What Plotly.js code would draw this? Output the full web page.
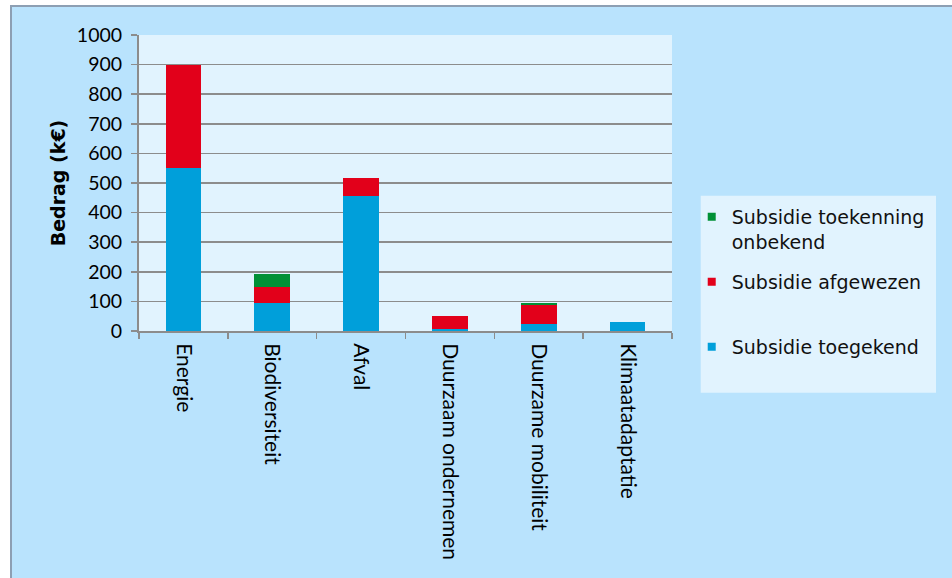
<!DOCTYPE html>
<html>
<head>
<meta charset="utf-8">
<script src="https://cdn.plot.ly/plotly-3.0.1.min.js"></script>
<style>
  html, body { margin: 0; padding: 0; background: #ffffff; width: 952px; height: 578px; overflow: hidden; }
  #frame { position: absolute; left: 10px; top: 5px; width: 942px; height: 573px;
           border-left: 2px solid #8d9fb3; border-top: 2px solid #8d9fb3; background: #b9e3fd; }
  #chart { position: absolute; left: 0; top: 0; width: 940px; height: 571px; }
</style>
</head>
<body>
<div id="frame"><div id="chart"></div></div>
<script>
const categories = ["Energie", "Biodiversiteit", "Afval", "Duurzaam ondernemen", "Duurzame mobiliteit", "Klimaatadaptatie"];
const toegekend = [550, 95, 455, 8, 22, 29];
const afgewezen = [350, 55, 61, 42, 66, 0];
const onbekend  = [0, 42, 0, 0, 7, 0];
const seriesNames = ["Subsidie toegekend", "Subsidie afgewezen", "Subsidie toekenning<br>onbekend"];
const yTicks = [0, 100, 200, 300, 400, 500, 600, 700, 800, 900, 1000];

const cBlue = "#009fda", cRed = "#e2001a", cGreen = "#009036";

const traces = [
  { type: "bar", x: categories, y: toegekend, name: seriesNames[0], marker: { color: cBlue }, showlegend: false },
  { type: "bar", x: categories, y: afgewezen, name: seriesNames[1], marker: { color: cRed }, showlegend: false },
  { type: "bar", x: categories, y: onbekend,  name: seriesNames[2], marker: { color: cGreen }, showlegend: false },
  // legend entries
  { type: "scatter", mode: "markers", x: [null], y: [null], name: seriesNames[2], legend: "legend",
    marker: { symbol: "square", size: 8, color: cGreen }, hoverinfo: "skip" },
  { type: "scatter", mode: "markers", x: [null], y: [null], name: seriesNames[1], legend: "legend2",
    marker: { symbol: "square", size: 8, color: cRed }, hoverinfo: "skip" },
  { type: "scatter", mode: "markers", x: [null], y: [null], name: seriesNames[0], legend: "legend3",
    marker: { symbol: "square", size: 8, color: cBlue }, hoverinfo: "skip" }
];

const legFont = { family: "DejaVu Sans", size: 19, color: "#111111" };
const legBase = { bgcolor: "rgba(0,0,0,0)", borderwidth: 0, font: legFont, xanchor: "left", yanchor: "middle",
                  valign: "top", itemclick: false, itemdoubleclick: false };

const layout = {
  width: 940, height: 571,
  margin: { l: 127, r: 280, t: 28, b: 247 },
  paper_bgcolor: "#b9e3fd",
  plot_bgcolor: "#e1f3fe",
  barmode: "stack",
  bargap: 0.6,
  xaxis: {
    type: "category",
    categoryarray: categories,
    tickangle: 90,
    tickson: "boundaries",
    ticks: "outside", ticklen: 6, tickwidth: 1.5, tickcolor: "#8c8c8c",
    showline: true, linecolor: "#8c8c8c", linewidth: 2,
    showgrid: false,
    ticklabelstandoff: 6,
    tickfont: { family: "Lato", size: 21, color: "#000000" },
    fixedrange: true
  },
  yaxis: {
    range: [0, 1000],
    tickvals: yTicks,
    ticktext: yTicks.map(String),
    ticks: "outside", ticklen: 6, tickwidth: 1.5, tickcolor: "#8c8c8c",
    showline: true, linecolor: "#8c8c8c", linewidth: 2,
    showgrid: true, gridcolor: "#8c8c8c", gridwidth: 1.5,
    zeroline: false,
    ticklabelstandoff: 5,
    tickfont: { family: "Lato", size: 19.5, color: "#000000" },
    title: { text: "Bedrag (k€)", font: { family: "DejaVu Sans", size: 19, weight: "bold", color: "#000000" }, standoff: 6 },
    fixedrange: true
  },
  legend:  Object.assign({}, legBase, { x: 1.037, y: 0.343 }),
  legend2: Object.assign({}, legBase, { x: 1.037, y: 0.1655 }),
  legend3: Object.assign({}, legBase, { x: 1.037, y: -0.054 }),
  shapes: [
    { type: "rect", xref: "paper", yref: "paper", x0: 1.0539, x1: 1.4953, y0: -0.2084, y1: 0.457,
      fillcolor: "#e1f3fe", line: { width: 0 }, layer: "below" }
  ]
};

Plotly.newPlot("chart", traces, layout, { displayModeBar: false, staticPlot: true });
</script>
</body>
</html>
